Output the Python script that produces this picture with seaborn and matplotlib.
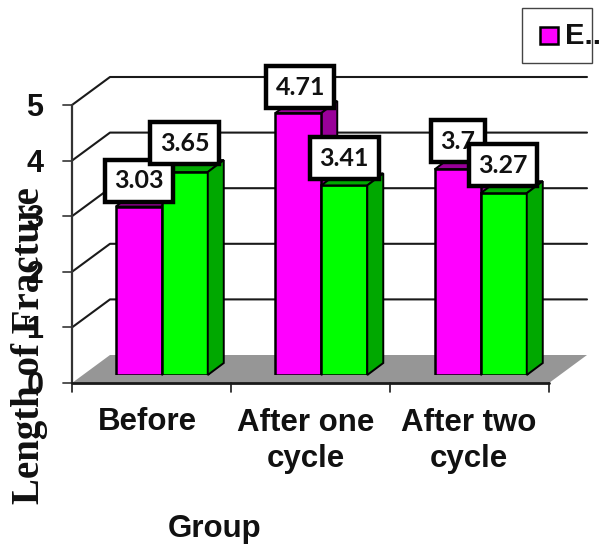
import pandas as pd
import matplotlib
matplotlib.use("Agg")
import matplotlib.pyplot as plt
from matplotlib.patches import Polygon, Rectangle
import seaborn as sns

groups = ["Before", "After one\ncycle", "After two\ncycle"]
series_names = ["E..", "C.."]
series_a = [3.03, 4.71, 3.7]
series_b = [3.65, 3.41, 3.27]
y_ticks = [0, 1, 2, 3, 4, 5]

W, H = 602, 546
PER_UNIT = 55.6
DX, DY = 38, 28        # wall depth
BX, BY = 16, 12        # bar depth
FL, FR, FB = 72, 549, 383   # front floor corners

sns.set_theme(style="white")

fig = plt.figure(figsize=(W / 100, H / 100), dpi=100)

# one axes over the whole figure, in pixels, for the fake 3d box and the text
bg = fig.add_axes([0, 0, 1, 1], zorder=0)
bg.set_xlim(0, W)
bg.set_ylim(H, 0)
bg.axis("off")

bg.add_patch(Polygon([(FL, FB), (FR, FB), (FR + DX, FB - DY), (FL + DX, FB - DY)],
                     fc="#969696", ec="none"))
for v in y_ticks:
    y = FB - v * PER_UNIT
    if v > 0:
        bg.plot([FL, FL + DX, FR + DX], [y, y - DY, y - DY], color="#1a1a1a", lw=1.5)
    bg.plot([FL - 9, FL], [y, y], color="#444444", lw=1.3)
    bg.text(35, y + 3, str(v), ha="center", va="center", fontsize=22,
            fontweight="bold", family="Liberation Sans", color="#111111")
bg.plot([FL, FL], [FB, FB - 5 * PER_UNIT], color="#333333", lw=1.6)
bg.plot([FL, FR], [FB, FB], color="#1a1a1a", lw=2)
for i in range(4):
    x = FL + i * (FR - FL) / 3
    bg.plot([x, x], [FB, FB + 9], color="#1a1a1a", lw=1.2)

# bars, the axes is placed so 0 sits on the floor and one unit is PER_UNIT px
ax = fig.add_axes([82 / W, (H - 375) / H, 478.5 / W, 5 * PER_UNIT / H], zorder=1)
ax.patch.set_alpha(0)
df = pd.DataFrame({
    "group": groups * 2,
    "series": [series_names[0]] * 3 + [series_names[1]] * 3,
    "value": series_a + series_b,
})
sns.barplot(data=df, x="group", y="value", hue="series", hue_order=series_names,
            palette=["#ff00ff", "#00ff00"], saturation=1, width=0.577, gap=0,
            edgecolor="black", linewidth=1.8, legend=False, ax=ax, zorder=3)
ax.set_xlim(-0.5, 2.5)
ax.set_ylim(0, 5)
ax.axis("off")

overlay = fig.add_axes([0, 0, 1, 1], zorder=2)
overlay.set_xlim(0, W)
overlay.set_ylim(H, 0)
overlay.axis("off")

side_cols = ["#990099", "#00a800"]
label_pos = []
fig.canvas.draw()
bars = list(ax.patches)[:6]
values = series_a + series_b
for k, bar in enumerate(bars):
    s = k // 3
    (x0, y0), (x1, y1) = ax.transData.transform([(bar.get_x(), 0),
                                                 (bar.get_x() + bar.get_width(), bar.get_height())])
    y0, y1 = H - y0, H - y1
    # top and right faces
    top = [(x0, y1), (x1, y1), (x1 + BX, y1 - BY), (x0 + BX, y1 - BY)]
    side = [(x1, y1), (x1 + BX, y1 - BY), (x1 + BX, y0 - BY), (x1, y0)]
    target = bg if s == 0 else overlay
    target.add_patch(Polygon(top, fc=side_cols[s], ec="black", lw=1.4, zorder=5))
    target.add_patch(Polygon(side, fc=side_cols[s], ec="black", lw=1.4, zorder=5))
    label_pos.append(((x0 + x1) / 2, y1, values[k]))

# data labels sit above the bars, later ones cover earlier ones
shifts = [(0.5, -26), (2, -26), (0, -28), (0, -29), (0, -27), (-1, -28)]
for (x, y, v), (sx, sy) in zip(label_pos, shifts):
    overlay.text(x + sx, y + sy, f"{v:g}", ha="center", va="center", fontsize=18,
                 fontweight="bold", family="Lato", color="#111111", zorder=9,
                 bbox=dict(boxstyle="square,pad=0.38", fc="white", ec="black", lw=3.2))

for x, g in zip([147, 306, 469], groups):
    overlay.text(x, 422 if "\n" not in g else 441, g, ha="center", va="center", fontsize=22.5,
                 fontweight="bold", family="Liberation Sans", color="#111111", linespacing=1.23)
overlay.text(215, 529, "Group", ha="center", va="center", fontsize=22.5,
             fontweight="bold", family="Liberation Sans", color="#111111")
overlay.text(30, 346, "Length of Fracture", rotation=90, ha="center", va="center",
             fontsize=28, fontweight="bold", family="Liberation Serif", color="#111111")

# legend, the name is clipped in the source too
overlay.add_patch(Rectangle((522, 8), 70, 55, fc="white", ec="#444444", lw=1))
overlay.add_patch(Rectangle((540, 27), 18, 17, fc="#ff00ff", ec="black", lw=1.8))
overlay.text(565, 36, series_names[0], ha="left", va="center", fontsize=21,
             fontweight="bold", family="Liberation Sans", color="#111111")

fig.savefig("out.png", dpi=100)
